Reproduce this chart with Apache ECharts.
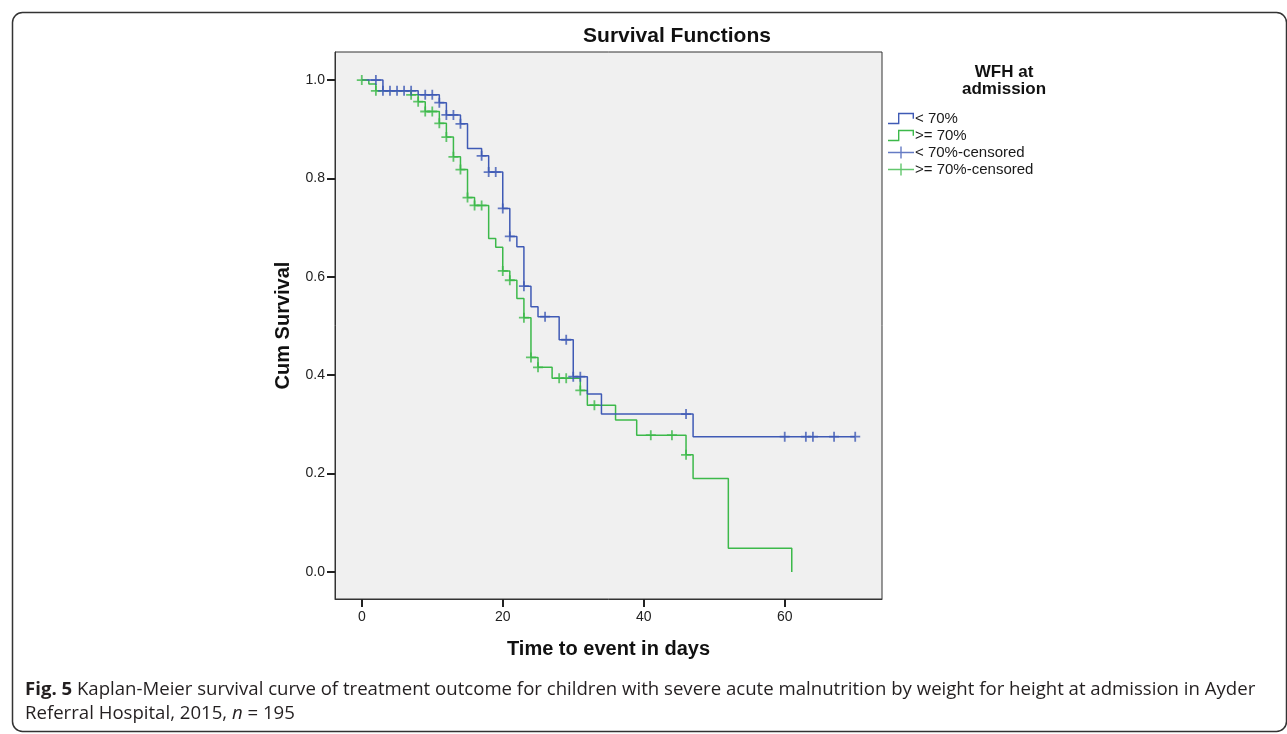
<!DOCTYPE html>
<html>
<head>
<meta charset="utf-8">
<script src="https://cdn.jsdelivr.net/npm/echarts@6/dist/echarts.min.js"></script>
<style>
  html, body { margin: 0; padding: 0; background: #fff; }
  #chart { width: 1287px; height: 734px; }
</style>
</head>
<body>
<div id="chart"></div>
<script>
// step points: [day, survival after event at that day]
var lowSteps = [
  [0, 1.0], [3, 0.978], [8, 0.970], [11, 0.954], [12, 0.929], [14, 0.911],
  [15, 0.861], [17, 0.846], [18, 0.813], [20, 0.739], [21, 0.682], [22, 0.661],
  [23, 0.581], [24, 0.539], [25, 0.519], [28, 0.472], [30, 0.397], [32, 0.362],
  [34, 0.321], [47, 0.275], [70, 0.275]
];
var highSteps = [
  [0, 1.0], [1, 0.992], [2, 0.978], [7, 0.970], [8, 0.956], [9, 0.936],
  [11, 0.912], [12, 0.884], [13, 0.844], [14, 0.818], [15, 0.761], [16, 0.745],
  [18, 0.678], [19, 0.660], [20, 0.612], [21, 0.593], [22, 0.556], [23, 0.517],
  [24, 0.436], [25, 0.416], [27, 0.394], [31, 0.369], [32, 0.339], [36, 0.309],
  [39, 0.278], [46, 0.238], [47, 0.190], [52, 0.048], [61, 0.0]
];
// censored cases
var lowCensored = [
  [2, 1.0], [3, 0.978], [4, 0.978], [5, 0.978], [6, 0.978], [7, 0.978],
  [9, 0.970], [10, 0.970], [11, 0.954], [12, 0.929], [13, 0.929], [14, 0.911],
  [17, 0.846], [18, 0.813], [19, 0.813], [20, 0.739], [21, 0.682], [23, 0.581],
  [26, 0.519], [29, 0.472], [30, 0.397], [31, 0.397], [46, 0.321],
  [60, 0.275], [63, 0.275], [64, 0.275], [67, 0.275], [70, 0.275]
];
var highCensored = [
  [0, 1.0], [2, 0.978], [7, 0.970], [8, 0.956], [9, 0.936], [10, 0.936],
  [11, 0.912], [12, 0.884], [13, 0.844], [14, 0.818], [15, 0.761], [16, 0.745],
  [17, 0.745], [20, 0.612], [21, 0.593], [23, 0.517], [24, 0.436], [25, 0.416],
  [28, 0.394], [29, 0.394], [31, 0.369], [33, 0.339], [41, 0.278], [44, 0.278],
  [46, 0.238]
];
var xTicks = [0, 20, 40, 60];
var yTicks = [0, 0.2, 0.4, 0.6, 0.8, 1.0];

var BLUE = '#3F5AB5';
var GREEN = '#3CB94A';
var FONT = '"Liberation Sans", Arial, sans-serif';

var plusPath = 'path://M4.1,0H5.9V4.1H10V5.9H5.9V10H4.1V5.9H0V4.1H4.1Z';
var stepIcon = 'path://M0,10H10V0H26V6H24.6V1.4H11.4V11.4H0Z';
var censIcon = 'path://M0,5.3H12.3V0H13.7V5.3H26V6.7H13.7V12H12.3V6.7H0Z';

var chart = echarts.init(document.getElementById('chart'));
chart.setOption({
  backgroundColor: '#fff',
  animation: false,
  title: {
    text: 'Survival Functions',
    left: 672, top: 21, textAlign: 'center',
    textStyle: { fontFamily: FONT, fontSize: 21, fontWeight: 'bold', color: '#111' }
  },
  grid: {
    left: 335, top: 52, width: 547, height: 547,
    show: true, backgroundColor: '#F0F0F0', borderColor: '#333', borderWidth: 1
  },
  legend: {
    orient: 'vertical', left: 883, top: 106, itemGap: 2,
    itemWidth: 26, itemHeight: 12,
    textStyle: { fontFamily: FONT, fontSize: 15, lineHeight: 15, color: '#1a1a1a', padding: [0, 0, 0, -4] },
    data: [
      { name: '< 70%', icon: stepIcon },
      { name: '>= 70%', icon: stepIcon },
      { name: '< 70%-censored', icon: censIcon },
      { name: '>= 70%-censored', icon: censIcon }
    ]
  },
  xAxis: {
    type: 'value', min: -3.8, max: 73.8,
    name: 'Time to event in days', nameLocation: 'middle', nameGap: 40,
    nameTextStyle: { fontFamily: FONT, fontSize: 20, fontWeight: 'bold', color: '#111' },
    axisLine: { show: true, onZero: false, lineStyle: { color: '#333', width: 1 } },
    axisTick: { show: true, inside: false, customValues: xTicks, length: 8, lineStyle: { color: '#222', width: 2 } },
    axisLabel: { customValues: xTicks, fontFamily: FONT, fontSize: 14, color: '#222', margin: 11 },
    splitLine: { show: false }
  },
  yAxis: {
    type: 'value', min: -0.055, max: 1.057,
    name: 'Cum Survival', nameLocation: 'middle', nameGap: 42,
    nameTextStyle: { fontFamily: FONT, fontSize: 20, fontWeight: 'bold', color: '#111' },
    axisLine: { show: true, onZero: false, lineStyle: { color: '#333', width: 1 } },
    axisTick: { show: true, inside: false, customValues: yTicks, length: 8, lineStyle: { color: '#222', width: 2 } },
    axisLabel: {
      customValues: yTicks, fontFamily: FONT, fontSize: 14, color: '#222', margin: 10,
      formatter: function (v) { return v.toFixed(1); }
    },
    splitLine: { show: false }
  },
  series: [
    {
      name: '< 70%', type: 'line', step: 'end', data: lowSteps,
      showSymbol: false, color: BLUE, lineStyle: { color: BLUE, width: 1.5 }, z: 3
    },
    {
      name: '>= 70%', type: 'line', step: 'end', data: highSteps,
      showSymbol: false, color: GREEN, lineStyle: { color: GREEN, width: 1.5 }, z: 2
    },
    {
      name: '< 70%-censored', type: 'scatter', data: lowCensored,
      symbol: plusPath, symbolSize: 10, color: BLUE, itemStyle: { color: BLUE }, z: 5
    },
    {
      name: '>= 70%-censored', type: 'scatter', data: highCensored,
      symbol: plusPath, symbolSize: 10, color: GREEN, itemStyle: { color: GREEN }, z: 4
    }
  ],
  graphic: [
    {
      type: 'rect', left: 10, top: 10, silent: true,
      shape: { width: 1274, height: 719, r: 10 },
      style: { fill: 'none', stroke: '#333', lineWidth: 1.5 }
    },
    {
      type: 'text', left: 962, top: 64, silent: true,
      style: {
        text: 'WFH at\nadmission', align: 'center', textAlign: 'center',
        font: 'bold 17px ' + FONT, fill: '#111', lineHeight: 17
      }
    },
    {
      type: 'text', left: 25, top: 678, silent: true,
      style: {
        text: '{b|Fig. 5} Kaplan-Meier survival curve of treatment outcome for children with severe acute malnutrition by weight for height at admission in Ayder\nReferral Hospital, 2015, {i|n} = 195',
        font: '18.6px "Open Sans", sans-serif', fill: '#231f20', lineHeight: 24,
        rich: {
          b: { fontFamily: '"Open Sans", sans-serif', fontSize: 18.6, fontWeight: 'bold', fill: '#231f20', lineHeight: 24 },
          i: { fontFamily: '"Open Sans", sans-serif', fontSize: 18.6, fontStyle: 'italic', fill: '#231f20', lineHeight: 24 }
        }
      }
    }
  ]
});
</script>
</body>
</html>
